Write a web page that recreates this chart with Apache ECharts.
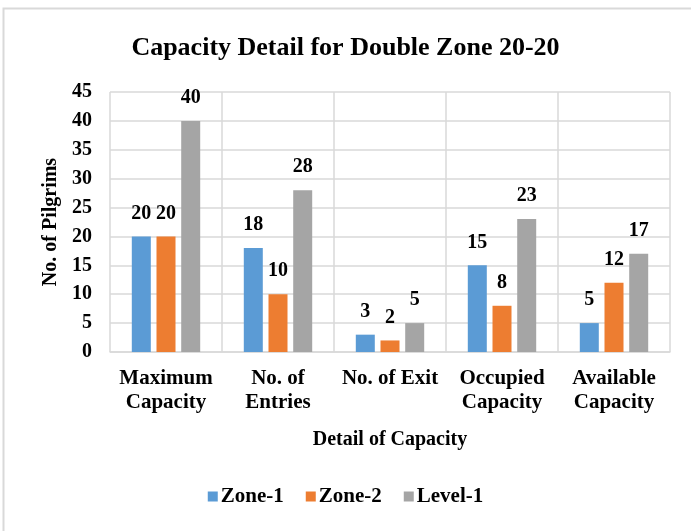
<!DOCTYPE html>
<html>
<head>
<meta charset="utf-8">
<script src="https://cdn.jsdelivr.net/npm/echarts@6/dist/echarts.min.js"></script>
<style>
  html, body { margin: 0; padding: 0; background: #fff; }
  #main { width: 691px; height: 531px; }
</style>
</head>
<body>
<div id="main"></div>
<script>
// 数据
var categories = ['Maximum\nCapacity', 'No. of\nEntries', 'No. of Exit', 'Occupied\nCapacity', 'Available\nCapacity'];
var zone1 = [20, 18, 3, 15, 5];
var zone2 = [20, 10, 2, 8, 12];
var level1 = [40, 28, 5, 23, 17];

var serif = '"Liberation Serif", "DejaVu Serif", serif';

var myChart = echarts.init(document.getElementById('main'));

function barSeries(name, data) {
    return {
        name: name,
        type: 'bar',
        data: data,
        barWidth: 19,
        barGap: '30%',
        label: {
            show: true,
            position: 'top',
            distance: 13,
            color: '#000',
            fontFamily: serif,
            fontWeight: 'bold',
            fontSize: 20
        }
    };
}

var option = {
    animation: false,
    color: ['#5B9BD5', '#ED7D31', '#A5A5A5'],
    graphic: [{
        type: 'rect',
        shape: { x: 3.5, y: 8.5, width: 800, height: 600 },
        style: { fill: 'none', stroke: '#D9D9D9', lineWidth: 2 }
    }],
    title: {
        text: 'Capacity Detail for Double Zone 20-20',
        left: 'center',
        top: 30,
        textStyle: {
            fontFamily: serif,
            fontWeight: 'bold',
            fontSize: 26,
            color: '#000'
        }
    },
    legend: {
        bottom: 19,
        left: 'center',
        itemWidth: 10,
        itemHeight: 10,
        itemGap: 22,
        icon: 'rect',
        textStyle: {
            fontFamily: serif,
            fontWeight: 'bold',
            fontSize: 21,
            color: '#000',
            padding: [0, 0, 0, -2]
        },
        data: ['Zone-1', 'Zone-2', 'Level-1']
    },
    grid: {
        left: 110,
        right: 21,
        top: 92,
        bottom: 179
    },
    xAxis: {
        type: 'category',
        data: categories,
        name: 'Detail of Capacity',
        nameLocation: 'middle',
        nameGap: 78,
        nameTextStyle: {
            fontFamily: serif,
            fontWeight: 'bold',
            fontSize: 20,
            color: '#000'
        },
        axisLine: { lineStyle: { color: '#D9D9D9', width: 1.5 } },
        axisTick: { show: false },
        splitLine: { show: true, lineStyle: { color: '#D9D9D9', width: 1.5 } },
        axisLabel: {
            interval: 0,
            margin: 15,
            lineHeight: 24,
            fontFamily: serif,
            fontWeight: 'bold',
            fontSize: 21,
            color: '#000'
        }
    },
    yAxis: {
        type: 'value',
        min: 0,
        max: 45,
        interval: 5,
        name: 'No. of Pilgrims',
        nameLocation: 'middle',
        nameGap: 49,
        nameTextStyle: {
            fontFamily: serif,
            fontWeight: 'bold',
            fontSize: 20,
            color: '#000'
        },
        axisLine: { show: false },
        axisTick: { show: false },
        splitLine: { lineStyle: { color: '#D9D9D9', width: 1.5 } },
        axisLabel: {
            margin: 18,
            fontFamily: serif,
            fontWeight: 'bold',
            fontSize: 20,
            color: '#000'
        }
    },
    series: [
        barSeries('Zone-1', zone1),
        barSeries('Zone-2', zone2),
        barSeries('Level-1', level1)
    ]
};

myChart.setOption(option);
</script>
</body>
</html>
